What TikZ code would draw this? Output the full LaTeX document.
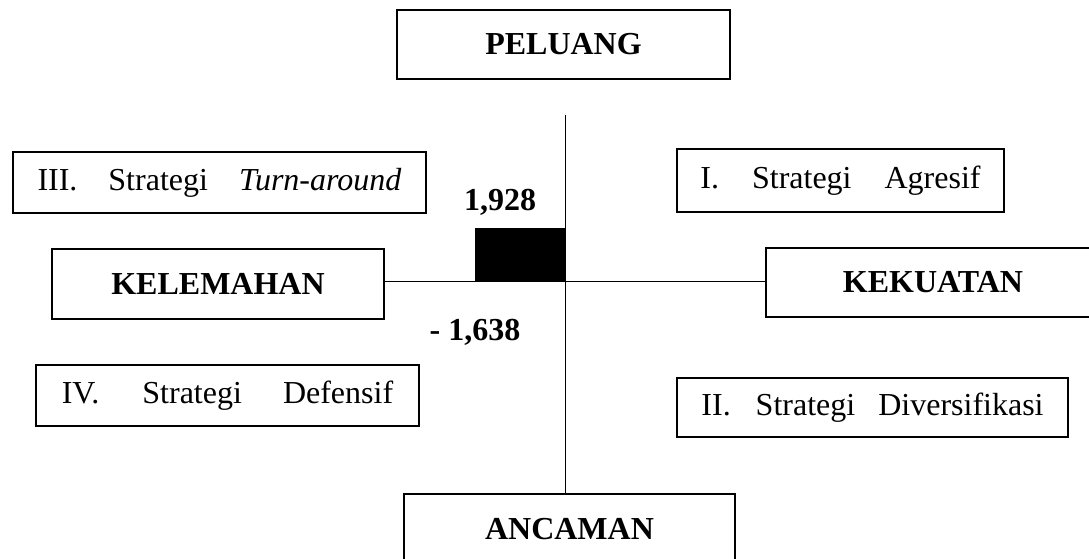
\documentclass[tikz,border=0pt]{standalone}
\usepackage{fontspec}
\setmainfont{Liberation Serif}
\begin{document}
\begin{tikzpicture}[x=1pt,y=-1pt,
  bigbox/.style={draw,line width=1.6pt,inner sep=0pt,font=\fontsize{32}{36}\selectfont\bfseries},
  stratbox/.style={draw,line width=1.6pt,inner sep=0pt,font=\fontsize{32}{36}\selectfont},
  axis/.style={line width=0.9pt},
  numlabel/.style={font=\fontsize{32}{36}\selectfont\bfseries,inner sep=0pt}]
\clip (0,0) rectangle (1089,558);
\fill[white] (0,0) rectangle (1089,558);
% main boxes
\node[bigbox,minimum width=333pt,minimum height=69pt] (pel) at (563.5,44.5) {PELUANG};
\node[bigbox,minimum width=332pt,minimum height=70pt] (kel) at (218,284) {KELEMAHAN};
\node[bigbox,minimum width=334pt,minimum height=69pt] (kek) at (933,282.5) {KEKUATAN};
\node[bigbox,minimum width=331pt,minimum height=70pt] (anc) at (569.5,529) {ANCAMAN};
% strategy boxes
\node[stratbox,minimum width=413pt,minimum height=61pt] (s3) at (219.5,182.5) {III.\hspace{31pt}Strategi\hspace{31pt}\textit{Turn-around}};
\node[stratbox,minimum width=327pt,minimum height=63pt] (s1) at (840.5,180.5) {I.\hspace{33pt}Strategi\hspace{33pt}Agresif};
\node[stratbox,minimum width=383pt,minimum height=61pt] (s4) at (227.5,395.5) {IV.\hspace{43pt}Strategi\hspace{41pt}Defensif};
\node[stratbox,minimum width=391pt,minimum height=59pt] (s2) at (872.5,407.5) {II.\hspace{25pt}Strategi\hspace{23pt}Diversifikasi};
% axes
\coordinate (c) at (565,281);
\coordinate (vtop) at (565,115);
\draw[axis] (vtop) -- (anc.north -| c);
\draw[axis] (kel.east |- c) -- (kek.west |- c);
% black bar
\node[fill=black,inner sep=0pt,minimum width=91.5pt,minimum height=53pt,anchor=south east] (bar) at (566.5,281) {};
% values
\node[numlabel] (v1) at (500,202) {1,928};
\node[numlabel] (v2) at (475,332) {- 1,638};
\end{tikzpicture}
\end{document}
